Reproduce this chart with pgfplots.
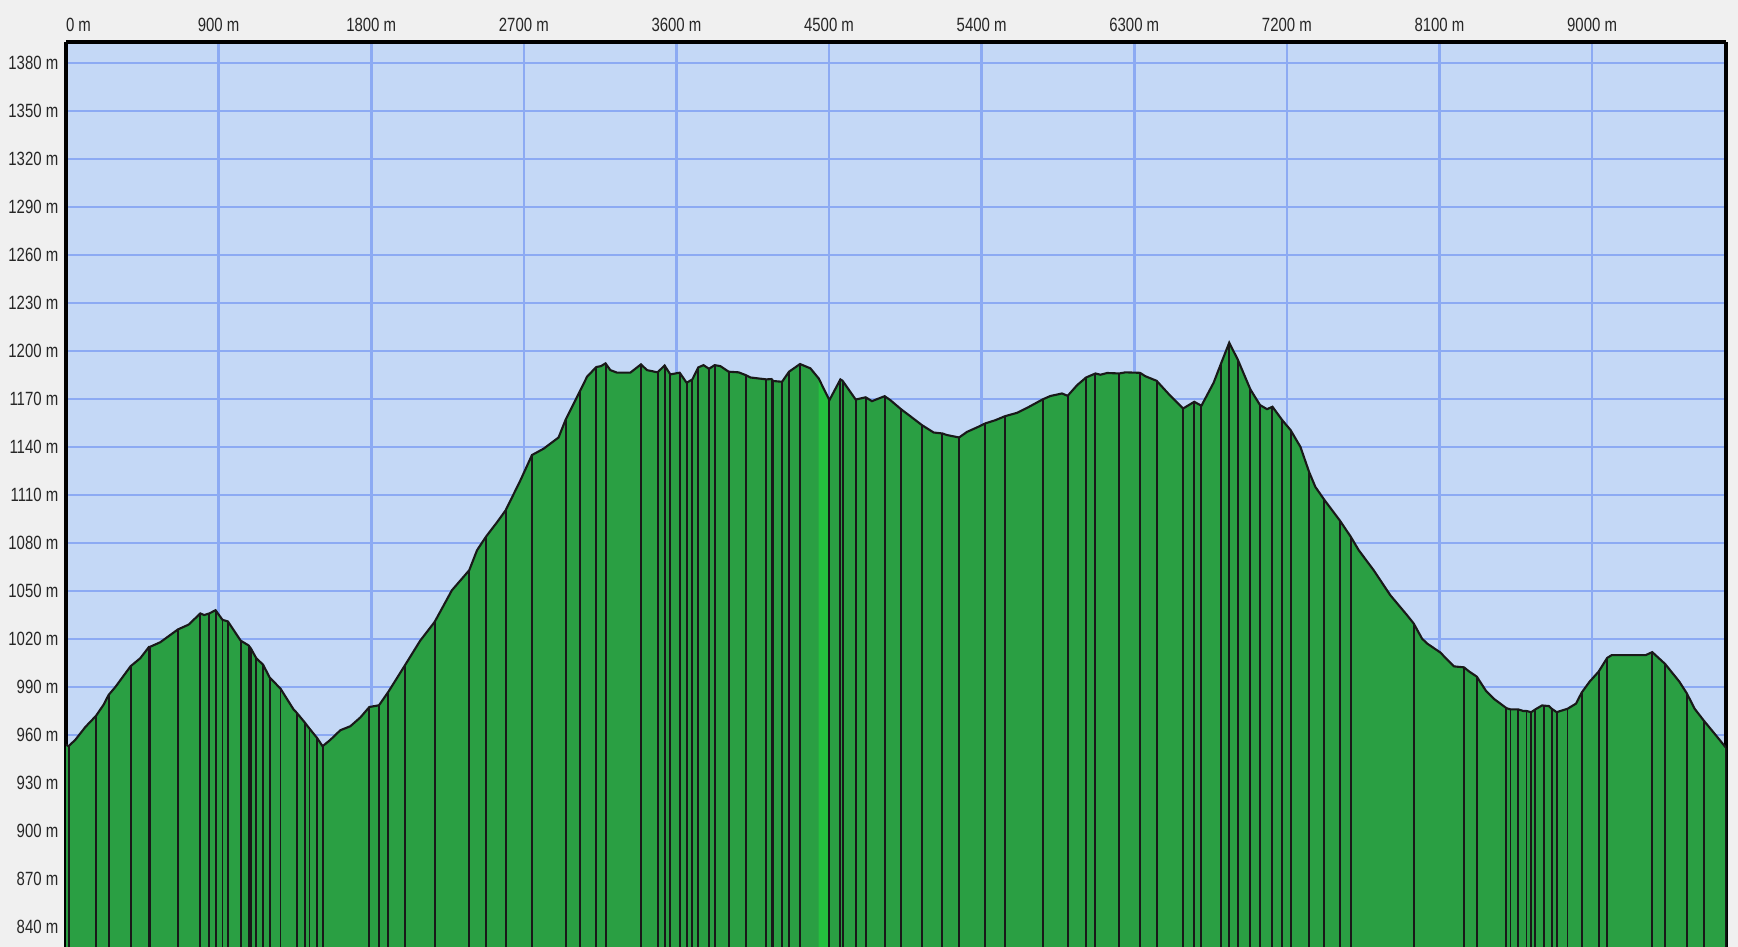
\documentclass[border=0pt]{standalone}
\usepackage{fontspec}
\setmainfont{Liberation Sans}[FakeStretch=0.78]
\usepackage{pgfplots}
\usepackage{pgfplotstable}
\pgfplotsset{compat=1.18}
\definecolor{pagegray}{RGB}{240,240,240}
\definecolor{skyblue}{RGB}{196,216,246}
\definecolor{gridblue}{RGB}{140,170,243}
\definecolor{mygreen}{RGB}{42,159,67}
\definecolor{lightgreen}{RGB}{36,192,62}

\pgfplotstableread{
d e v
0 954 0
15 953 1
55 957 0
114 965 0
177 972 1
222 979 0
251 985 1
291 990 0
381 1003 1
438 1008 0
489 1015 1
493 1015 1
556 1018 0
660 1026 1
723 1029 0
792 1036 1
815 1035 0
845 1036 1
882 1038 1
923 1032 1
955 1031 1
1030 1019 1
1077 1016 1
1091 1014 1
1122 1008 1
1162 1004 1
1201 996 1
1265 989 1
1342 976 0
1360 974 1
1407 968 1
1436 964 1
1482 958 1
1513 953 1
1559 957 0
1618 963 0
1677 965.5 0
1736 971 0
1789 977.5 1
1846 978.6 1
1901 987 1
1999 1003.6 1
2089 1019 0
2174 1030.7 1
2276 1050.5 0
2378 1063 1
2424 1075.5 0
2477 1084 1
2542 1093 0
2593 1100.5 1
2679 1119 0
2748 1135 1
2817 1139 0
2905 1146 0
2946 1157 1
3029 1174.5 1
3073 1184 0
3127 1190 1
3155 1190.6 0
3182 1192.3 1
3210 1188.1 0
3250 1186.5 0
3328 1186.5 0
3391 1191.7 1
3426 1188.1 0
3489 1186.7 1
3530 1191 1
3564 1185.4 1
3619 1186.5 1
3660 1180.2 1
3694 1182.3 1
3729 1189.8 1
3760 1191.2 0
3792 1188.9 1
3825 1191.2 1
3859 1190.6 0
3908 1187.1 1
3967 1186.7 0
4008 1185 1
4036 1183.5 0
4130 1182.3 1
4161 1182.5 1
4170 1181.3 1
4223 1180.8 1
4264 1187.1 1
4329 1191.9 1
4390 1189.2 0
4439 1182.9 0
4502 1169.3 1
4567 1182.3 1
4580 1181.4 1
4657 1169.7 1
4716 1171.1 1
4753 1168.7 0
4828 1171.8 1
4862 1169.3 0
4924 1163.7 1
4979 1159.3 0
5048 1153.7 1
5117 1149.1 0
5168 1148.5 1
5196 1147.5 0
5267 1146 1
5314 1149.5 0
5373 1152.3 0
5422 1154.8 1
5481 1156.8 0
5538 1159.3 1
5609 1161.4 0
5668 1164.5 0
5760 1169.8 1
5805 1171.9 0
5874 1173.5 0
5907 1172 1
5963 1178.7 0
6016 1183.5 1
6071 1186 1
6100 1185.2 0
6140 1186.3 0
6212 1186 1
6248 1186.7 0
6334 1186.4 1
6365 1184.3 0
6432 1181.4 1
6513 1172 0
6588 1164.1 1
6654 1168.3 1
6696 1165.8 1
6768 1180.2 0
6812 1192.3 1
6860 1205.2 1
6910 1194.8 1
6985 1176 1
7042 1166.2 1
7083 1163.7 0
7115 1165.2 1
7173 1156.8 1
7222 1150.6 1
7280 1140.1 0
7331 1124.5 1
7368 1115.1 0
7419 1107.3 1
7511 1094.3 1
7577 1083.9 1
7624 1075.5 0
7712 1063 0
7810 1047.4 0
7909 1034.9 0
7948 1029.7 1
7997 1020.3 0
8027 1017.2 0
8105 1011.6 0
8145 1007.2 0
8186 1002.9 0
8245 1002.3 1
8275 999.7 0
8320 996.5 1
8375 987.5 0
8425 982.3 0
8495 976.8 1
8519 976 1
8565 976 1
8595 975 0
8613 975 1
8641 974.3 1
8665 976 1
8705 978.5 0
8715 978.4 1
8745 978.1 0
8761 976.5 1
8791 974.3 1
8855 976.4 1
8905 979.6 0
8939 986.6 1
8985 993.3 0
9039 999.7 1
9089 1008.2 1
9115 1009.9 0
9315 1009.9 0
9355 1011.8 1
9431 1004.4 1
9515 993.3 0
9559 986 1
9605 976.4 0
9659 969 1
9725 960.5 0
9790 952 1
}\profile

\begin{document}
\begin{tikzpicture}
\path[use as bounding box, fill=pagegray] (-0.66cm,0) rectangle (16.72cm,9.47cm);
\begin{axis}[
  at={(0,0)}, anchor=south west,
  scale only axis, width=16.6cm, height=9.05cm,
  xmin=0, xmax=9790, ymin=827.5, ymax=1393.2,
  axis x line*=top, axis y line*=box,
  x axis line style={-, black, line width=0.9pt},
  y axis line style={-, black, line width=0.9pt},
  xtick={0,900,1800,2700,3600,4500,5400,6300,7200,8100,9000},
  xticklabels={\makebox[0pt][l]{0 m},900 m,1800 m,2700 m,3600 m,4500 m,5400 m,6300 m,7200 m,8100 m,9000 m},
  ytick={840,870,900,930,960,990,1020,1050,1080,1110,1140,1170,1200,1230,1260,1290,1320,1350,1380},
  yticklabels={840 m,870 m,900 m,930 m,960 m,990 m,1020 m,1050 m,1080 m,1110 m,1140 m,1170 m,1200 m,1230 m,1260 m,1290 m,1320 m,1350 m,1380 m},
  major tick length=0pt,
  grid=major, grid style={gridblue, line width=0.75pt},
  axis background/.style={fill=skyblue},
  tick label style={font=\fontsize{5.45}{6}\selectfont, text=black!85},
  xticklabel style={anchor=south, inner sep=0pt, yshift=2.7pt},
  yticklabel style={anchor=east, inner sep=0pt, xshift=-2pt},
]
\addplot[draw=none, fill=mygreen] table[x=d, y=e]{\profile} \closedcycle;
\addplot[draw=none, fill=lightgreen] coordinates {(4439,1182.9) (4502,1169.3)} \closedcycle;
\addplot[ycomb, no marks, draw=black!90, line width=0.55pt,
  restrict expr to domain={\thisrow{v}}{0.5:1.5}, unbounded coords=discard]
  table[x=d, y=e]{\profile};
\addplot[no marks, draw=black!90, line width=0.6pt] table[x=d, y=e]{\profile};
\end{axis}
\end{tikzpicture}
\end{document}
